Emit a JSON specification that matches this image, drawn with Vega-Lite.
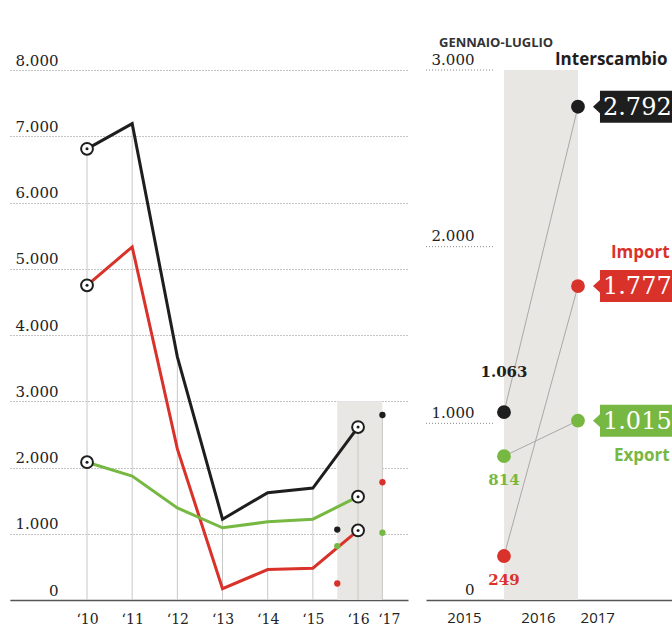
{
  "$schema": "https://vega.github.io/schema/vega-lite/v6.json",
  "padding": {"left": 10, "top": 36, "right": 0, "bottom": 0},
  "background": "white",
  "spacing": 17,
  "config": {
    "view": {"stroke": null},
    "locale": {"number": {"decimal": ",", "thousands": ".", "grouping": [3], "currency": ["€", ""]}}
  },
  "datasets": {
    "annual": [
      {"anno": 2010, "serie": "Interscambio", "valore": 6810},
      {"anno": 2011, "serie": "Interscambio", "valore": 7190},
      {"anno": 2012, "serie": "Interscambio", "valore": 3670},
      {"anno": 2013, "serie": "Interscambio", "valore": 1220},
      {"anno": 2014, "serie": "Interscambio", "valore": 1620},
      {"anno": 2015, "serie": "Interscambio", "valore": 1690},
      {"anno": 2016, "serie": "Interscambio", "valore": 2610},
      {"anno": 2010, "serie": "Import", "valore": 4750},
      {"anno": 2011, "serie": "Import", "valore": 5330},
      {"anno": 2012, "serie": "Import", "valore": 2280},
      {"anno": 2013, "serie": "Import", "valore": 170},
      {"anno": 2014, "serie": "Import", "valore": 460},
      {"anno": 2015, "serie": "Import", "valore": 480},
      {"anno": 2016, "serie": "Import", "valore": 1050},
      {"anno": 2010, "serie": "Export", "valore": 2080},
      {"anno": 2011, "serie": "Export", "valore": 1870},
      {"anno": 2012, "serie": "Export", "valore": 1390},
      {"anno": 2013, "serie": "Export", "valore": 1090},
      {"anno": 2014, "serie": "Export", "valore": 1180},
      {"anno": 2015, "serie": "Export", "valore": 1220},
      {"anno": 2016, "serie": "Export", "valore": 1560}
    ],
    "genlug": [
      {"periodo": "gen-lug 2016", "t": 2015.54, "serie": "Interscambio", "valore": 1063},
      {"periodo": "gen-lug 2016", "t": 2015.54, "serie": "Import", "valore": 249},
      {"periodo": "gen-lug 2016", "t": 2015.54, "serie": "Export", "valore": 814},
      {"periodo": "gen-lug 2017", "t": 2016.54, "serie": "Interscambio", "valore": 2792},
      {"periodo": "gen-lug 2017", "t": 2016.54, "serie": "Import", "valore": 1777},
      {"periodo": "gen-lug 2017", "t": 2016.54, "serie": "Export", "valore": 1015}
    ],
    "rules": [
      {"t": 2010, "max": 6810},
      {"t": 2011, "max": 7190},
      {"t": 2012, "max": 3670},
      {"t": 2013, "max": 1220},
      {"t": 2014, "max": 1620},
      {"t": 2015, "max": 1690},
      {"t": 2016, "max": 2610},
      {"t": 2016.54, "max": 2792}
    ],
    "band": [{"inizio": 2015.54, "fine": 2016.54, "alto": 3000}],
    "grid3": [{"v": 1000}, {"v": 2000}, {"v": 3000}]
  },
  "hconcat": [
    {
      "width": 398,
      "height": 530,
      "layer": [
        {
          "data": {"name": "band"},
          "mark": {"type": "rect", "color": "#e9e7e4"},
          "encoding": {
            "x": {"field": "inizio", "type": "quantitative", "scale": {"domain": [2008.295, 2017.106], "nice": false, "zero": false},
              "axis": {"values": [2010, 2011, 2012, 2013, 2014, 2015, 2016, 2016.68], "labelExpr": "datum.value > 2016.2 ? '‘17' : '‘' + slice(toString(datum.value), 2)", "title": null, "grid": false, "ticks": false, "domainColor": "#555", "domainWidth": 1.5, "labelFont": "DejaVu Serif", "labelFontSize": 14, "labelColor": "#222", "labelPadding": 12}},
            "x2": {"field": "fine"},
            "y": {"field": "alto", "type": "quantitative", "scale": {"domain": [0, 8000], "nice": false},
              "axis": {"values": [0, 1000, 2000, 3000, 4000, 5000, 6000, 7000, 8000], "format": ",d", "title": null, "domain": false, "ticks": false, "grid": true, "gridDash": [1, 2], "gridColor": "#8a8a8a", "gridWidth": 1, "labelAlign": "right", "labelPadding": -48, "labelBaseline": "alphabetic", "labelOffset": -5, "labelFont": "DejaVu Serif", "labelFontSize": 15, "labelColor": "#222"}},
            "y2": {"datum": 0}
          }
        },
        {
          "data": {"name": "rules"},
          "mark": {"type": "rule", "color": "#c8c8c8", "strokeWidth": 1},
          "encoding": {
            "x": {"field": "t", "type": "quantitative"},
            "y": {"field": "max", "type": "quantitative"},
            "y2": {"datum": 0}
          }
        },
        {
          "data": {"name": "annual"},
          "mark": {"type": "line", "strokeWidth": 3},
          "encoding": {
            "x": {"field": "anno", "type": "quantitative"},
            "y": {"field": "valore", "type": "quantitative"},
            "color": {"field": "serie", "type": "nominal", "scale": {"domain": ["Interscambio", "Import", "Export"], "range": ["#1e1e1e", "#d9322b", "#77b843"]}, "legend": null}
          }
        },
        {
          "data": {"name": "genlug"},
          "mark": {"type": "point", "filled": true, "size": 40, "opacity": 1},
          "encoding": {
            "x": {"field": "t", "type": "quantitative"},
            "y": {"field": "valore", "type": "quantitative"},
            "color": {"field": "serie", "type": "nominal", "legend": null}
          }
        },
        {
          "data": {"name": "annual"},
          "transform": [{"filter": "datum.anno == 2010 || datum.anno == 2016"}],
          "mark": {"type": "point", "filled": false, "fill": "white", "stroke": "#1e1e1e", "strokeWidth": 2, "size": 140, "opacity": 1},
          "encoding": {
            "x": {"field": "anno", "type": "quantitative"},
            "y": {"field": "valore", "type": "quantitative"}
          }
        },
        {
          "data": {"name": "annual"},
          "transform": [{"filter": "datum.anno == 2010 || datum.anno == 2016"}],
          "mark": {"type": "point", "filled": true, "color": "#1e1e1e", "size": 9, "opacity": 1},
          "encoding": {
            "x": {"field": "anno", "type": "quantitative"},
            "y": {"field": "valore", "type": "quantitative"}
          }
        }
      ]
    },
    {
      "width": 260,
      "height": 530,
      "title": {"text": "GENNAIO-LUGLIO", "anchor": "start", "frame": "group", "dx": 13, "offset": 1, "font": "Open Sans", "fontSize": 13, "fontWeight": "bold", "color": "#333", "limit": 0},
      "layer": [
        {
          "data": {"name": "band"},
          "mark": {"type": "rect", "color": "#e9e7e4"},
          "encoding": {
            "x": {"field": "inizio", "type": "quantitative", "scale": {"domain": [2014.486, 2018.0], "nice": false, "zero": false},
              "axis": {"values": [2015, 2016, 2016.8], "labelExpr": "datum.value > 2016.5 ? '2017' : toString(datum.value)", "title": null, "grid": false, "ticks": false, "domainColor": "#555", "domainWidth": 1.5, "labelFont": "Open Sans", "labelFontSize": 15, "labelColor": "#222", "labelPadding": 10}},
            "x2": {"field": "fine"},
            "y": {"field": "alto", "type": "quantitative", "scale": {"domain": [0, 3000], "nice": false},
              "axis": {"values": [0, 1000, 2000, 3000], "format": ",d", "title": null, "domain": false, "ticks": false, "grid": false, "labelAlign": "right", "labelPadding": -48, "labelBaseline": "alphabetic", "labelOffset": -6, "labelFont": "DejaVu Serif", "labelFontSize": 15, "labelColor": "#222"}},
            "y2": {"datum": 0}
          }
        },
        {
          "data": {"name": "grid3"},
          "mark": {"type": "rule", "color": "#8a8a8a", "strokeDash": [1, 2], "strokeWidth": 1},
          "encoding": {
            "y": {"field": "v", "type": "quantitative"},
            "x": {"datum": 2014.486, "type": "quantitative"},
            "x2": {"datum": 2015.405}
          }
        },
        {
          "data": {"name": "genlug"},
          "mark": {"type": "line", "color": "#a8a8a8", "strokeWidth": 1},
          "encoding": {
            "x": {"field": "t", "type": "quantitative"},
            "y": {"field": "valore", "type": "quantitative"},
            "detail": {"field": "serie", "type": "nominal"}
          }
        },
        {
          "data": {"name": "genlug"},
          "mark": {"type": "point", "filled": true, "size": 190, "opacity": 1},
          "encoding": {
            "x": {"field": "t", "type": "quantitative"},
            "y": {"field": "valore", "type": "quantitative"},
            "color": {"field": "serie", "type": "nominal", "scale": {"domain": ["Interscambio", "Import", "Export"], "range": ["#1e1e1e", "#d9322b", "#77b843"]}, "legend": null}
          }
        },
        {
          "data": {"name": "genlug"},
          "transform": [{"filter": "datum.t < 2016 && datum.serie == 'Interscambio'"}],
          "mark": {"type": "text", "dy": -40, "font": "DejaVu Serif", "fontSize": 15, "fontWeight": "bold", "color": "#1e1e1e"},
          "encoding": {
            "x": {"field": "t", "type": "quantitative"},
            "y": {"field": "valore", "type": "quantitative"},
            "text": {"field": "valore", "type": "quantitative", "format": ",d"}
          }
        },
        {
          "data": {"name": "genlug"},
          "transform": [{"filter": "datum.t < 2016 && datum.serie != 'Interscambio'"}],
          "mark": {"type": "text", "dy": 24, "font": "DejaVu Serif", "fontSize": 15, "fontWeight": "bold"},
          "encoding": {
            "x": {"field": "t", "type": "quantitative"},
            "y": {"field": "valore", "type": "quantitative"},
            "text": {"field": "valore", "type": "quantitative", "format": ",d"},
            "color": {"field": "serie", "type": "nominal", "legend": null}
          }
        },
        {
          "data": {"name": "genlug"},
          "transform": [{"filter": "datum.t > 2016"}],
          "mark": {"type": "point", "filled": true, "size": 1600, "opacity": 1, "strokeWidth": 0, "shape": "M0.75,0 L1.1,-0.32 L1.1,-0.8 L7,-0.8 L7,0.8 L1.1,0.8 L1.1,0.32 Z"},
          "encoding": {
            "x": {"field": "t", "type": "quantitative"},
            "y": {"field": "valore", "type": "quantitative"},
            "color": {"field": "serie", "type": "nominal", "legend": null}
          }
        },
        {
          "data": {"name": "genlug"},
          "transform": [{"filter": "datum.t > 2016"}],
          "mark": {"type": "text", "align": "left", "baseline": "middle", "dx": 25, "dy": 1, "font": "DejaVu Serif", "fontSize": 24, "color": "white"},
          "encoding": {
            "x": {"field": "t", "type": "quantitative"},
            "y": {"field": "valore", "type": "quantitative"},
            "text": {"field": "valore", "type": "quantitative", "format": ",d"}
          }
        },
        {
          "data": {"name": "genlug"},
          "transform": [{"filter": "datum.t > 2016 && datum.serie == 'Interscambio'"}],
          "mark": {"type": "text", "align": "left", "baseline": "middle", "dx": -23, "dy": -47, "font": "Open Sans", "fontSize": 17, "fontWeight": "bold", "color": "#1e1e1e"},
          "encoding": {
            "x": {"field": "t", "type": "quantitative"},
            "y": {"field": "valore", "type": "quantitative"},
            "text": {"field": "serie", "type": "nominal"}
          }
        },
        {
          "data": {"name": "genlug"},
          "transform": [{"filter": "datum.t > 2016 && datum.serie == 'Import'"}],
          "mark": {"type": "text", "align": "left", "baseline": "middle", "dx": 33, "dy": -33, "font": "Open Sans", "fontSize": 17, "fontWeight": "bold", "color": "#d9322b"},
          "encoding": {
            "x": {"field": "t", "type": "quantitative"},
            "y": {"field": "valore", "type": "quantitative"},
            "text": {"field": "serie", "type": "nominal"}
          }
        },
        {
          "data": {"name": "genlug"},
          "transform": [{"filter": "datum.t > 2016 && datum.serie == 'Export'"}],
          "mark": {"type": "text", "align": "left", "baseline": "middle", "dx": 36, "dy": 35, "font": "Open Sans", "fontSize": 17, "fontWeight": "bold", "color": "#77b843"},
          "encoding": {
            "x": {"field": "t", "type": "quantitative"},
            "y": {"field": "valore", "type": "quantitative"},
            "text": {"field": "serie", "type": "nominal"}
          }
        }
      ]
    }
  ]
}
